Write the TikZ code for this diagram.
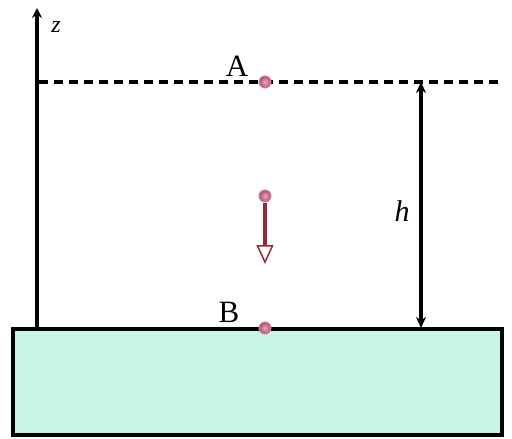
\documentclass[tikz,border=0pt]{standalone}
\usepackage{fontspec}
\setmainfont{Liberation Serif}
\usetikzlibrary{arrows.meta}
\definecolor{ground}{HTML}{C8F5E8}
\definecolor{ball}{HTML}{B84A70}
\definecolor{velo}{HTML}{982838}
\tikzset{
  px/.style={x=1pt,y=-1pt},
  ballnode/.style={circle,inner sep=0pt,minimum size=12pt,draw=ball!70!white,line width=1pt,
    shade,inner color=ball!45!white,outer color=ball},
  lbl/.style={font=\fontsize{31}{34}\selectfont,inner sep=0pt},
}
\begin{document}
\begin{tikzpicture}[px]
\useasboundingbox (0,0) rectangle (512,439);
% ground
\draw[line width=4.5pt,fill=ground] (13,329) rectangle (502,435);
% z axis
\coordinate (zb) at (37,329);
\coordinate (zt) at (37,8);
\draw[line width=4.5pt,-{Stealth[length=10pt,width=10pt]}] (zb) -- (zt);
\node[inner sep=0pt,font=\fontsize{24}{26}\selectfont\itshape] (zl) at (56,27) {z};
% dashed line
\coordinate (ds) at (39,82);
\coordinate (de) at (500,82);
\draw[line width=4.5pt,dash pattern=on 9pt off 6pt] (ds) -- (de);
% h arrow
\coordinate (ht) at (421,82);
\coordinate (hb) at (421,328);
\draw[line width=3.5pt,{Stealth[length=11pt,width=10pt]}-{Stealth[length=11pt,width=10pt]}] (ht) -- (hb);
\node[inner sep=0pt,font=\fontsize{30}{32}\selectfont\itshape] (h) at (402,211) {h};
% balls
\node[ballnode] (A) at (265,82) {};
\node[ballnode] (M) at (265,196) {};
\node[ballnode] (B) at (265,328) {};
\node[lbl] (Al) at (237,66) {A};
\node[lbl] (Bl) at (229,312) {B};
% velocity arrow
\coordinate (vt) at (265,264);
\draw[velo,line width=3.5pt,-{Triangle[open,length=19pt,width=17pt,line width=1.5pt]}] (M) -- (vt);
\end{tikzpicture}
\end{document}
